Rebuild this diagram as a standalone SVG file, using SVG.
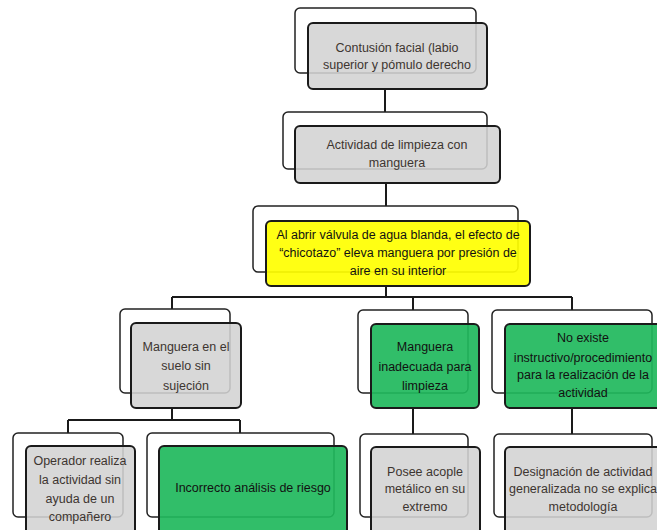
<svg xmlns="http://www.w3.org/2000/svg" width="657" height="530" viewBox="0 0 657 530">
<style>
.back{fill:#fff;stroke:#222;stroke-width:1.5}
.front{stroke:#1a1a1a;stroke-width:2}
.gray{fill:#d3d3d3;fill-opacity:0.88}
.green{fill:#1fb85c;fill-opacity:0.92}
.yellow{fill:#ffff00;fill-opacity:0.92}
text{font-family:"Liberation Sans",Arial,sans-serif;font-size:12.5px;text-anchor:middle}
.tg{fill:#3d3530}
.tk{fill:#111}
.conn{fill:none;stroke:#1a1a1a;stroke-width:2}
</style>
<rect width="657" height="530" fill="#fff"/>
<g id="connectors">
<path class="conn" d="M385 89V113M386 183V206M386 286V297M172 297H572M172 297V310M413 297V310M572 297V310M172 408V420M68 420H240M68 420V433M240 420V433M413 408V434M572 408V434"/>
</g>
<g id="n1">
<rect class="back" x="295" y="8" width="181" height="65" rx="5"/>
<rect class="front gray" x="308" y="23" width="179" height="66" rx="5"/>
<text class="tg" x="397" y="52">Contusión facial (labio</text>
<text class="tg" x="397" y="69">superior y pómulo derecho</text>
</g>
<g id="n2">
<rect class="back" x="283" y="112" width="204" height="57" rx="5"/>
<rect class="front gray" x="295" y="126" width="205" height="57" rx="5"/>
<text class="tg" x="397" y="149">Actividad de limpieza con</text>
<text class="tg" x="397" y="167">manguera</text>
</g>
<g id="n3">
<rect class="back" x="253" y="206" width="265" height="66" rx="5"/>
<rect class="front yellow" x="266" y="221" width="264" height="65" rx="5"/>
<text class="tk" x="398" y="239">Al abrir válvula de agua blanda, el efecto de</text>
<text class="tk" x="398" y="257">“chicotazo” eleva manguera por presión de</text>
<text class="tk" x="398" y="275">aire en su interior</text>
</g>
<g id="n4">
<rect class="back" x="120" y="309" width="110" height="84" rx="5"/>
<rect class="front gray" x="131" y="323" width="110" height="85" rx="5"/>
<text class="tg" x="186" y="351">Manguera en el</text>
<text class="tg" x="186" y="370">suelo sin</text>
<text class="tg" x="186" y="390">sujeción</text>
</g>
<g id="n5">
<rect class="back" x="358" y="310" width="110" height="83" rx="5"/>
<rect class="front green" x="371" y="324" width="108" height="84" rx="5"/>
<text class="tk" x="425" y="351">Manguera</text>
<text class="tk" x="425" y="371">inadecuada para</text>
<text class="tk" x="425" y="390">limpieza</text>
</g>
<g id="n6">
<rect class="back" x="492" y="310" width="160" height="83" rx="5"/>
<rect class="front green" x="505" y="324" width="164" height="84" rx="5"/>
<text class="tk" x="583" y="342">No existe</text>
<text class="tk" x="583" y="362">instructivo/procedimiento</text>
<text class="tk" x="583" y="379">para la realización de la</text>
<text class="tk" x="583" y="397">actividad</text>
</g>
<g id="n7">
<rect class="back" x="13" y="433" width="110" height="84" rx="5"/>
<rect class="front gray" x="26" y="446" width="109" height="90" rx="5"/>
<text class="tg" x="80" y="465">Operador realiza</text>
<text class="tg" x="80" y="484">la actividad sin</text>
<text class="tg" x="80" y="503">ayuda de un</text>
<text class="tg" x="80" y="521">compañero</text>
</g>
<g id="n8">
<rect class="back" x="147" y="433" width="187" height="84" rx="5"/>
<rect class="front green" x="159" y="446" width="188" height="90" rx="5"/>
<text class="tk" x="253" y="492">Incorrecto análisis de riesgo</text>
</g>
<g id="n9">
<rect class="back" x="360" y="434" width="108" height="83" rx="5"/>
<rect class="front gray" x="371" y="447" width="109" height="90" rx="5"/>
<text class="tg" x="425" y="476">Posee acople</text>
<text class="tg" x="425" y="493">metálico en su</text>
<text class="tg" x="425" y="511">extremo</text>
</g>
<g id="n10">
<rect class="back" x="494" y="434" width="158" height="83" rx="5"/>
<rect class="front gray" x="505" y="447" width="164" height="90" rx="5"/>
<text class="tg" x="583" y="476">Designación de actividad</text>
<text class="tg" x="583" y="493">generalizada no se explica</text>
<text class="tg" x="583" y="511">metodología</text>
</g>
</svg>
